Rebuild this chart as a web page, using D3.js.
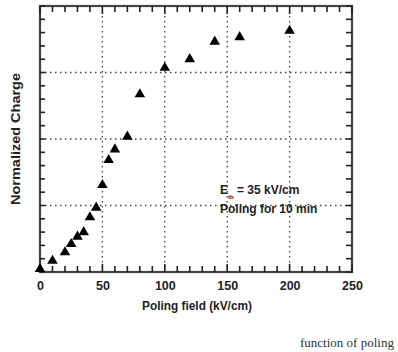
<!DOCTYPE html>
<html>
<head>
<meta charset="utf-8">
<script src="https://cdn.jsdelivr.net/npm/d3@7"></script>
<style>
  body { margin: 0; background: #fff; }
  text { font-family: "Liberation Sans", Arial, sans-serif; }
</style>
</head>
<body>
<div id="chart"></div>
<script>
// poling field (kV/cm) and normalized charge
const field = [0, 10, 20, 25, 30, 35, 40, 45, 50, 55, 60, 70, 80, 100, 120, 140, 160, 200];
const charge = [0.011, 0.042, 0.074, 0.105, 0.133, 0.150, 0.206, 0.242, 0.327, 0.421,
                0.461, 0.509, 0.668, 0.768, 0.800, 0.866, 0.883, 0.907];
const xTicks = [0, 50, 100, 150, 200, 250];
const yGrid = [0.25, 0.5, 0.75];

const width = 398;
const height = 352;
const plotLeft = 40, plotRight = 352, plotTop = 6, plotBottom = 272;

const svg = d3.select('#chart')
    .append('svg')
    .attr('width', width)
    .attr('height', height);

const xScale = d3.scaleLinear().domain([0, 250]).range([plotLeft, plotRight]);
const yScale = d3.scaleLinear().domain([0, 1]).range([plotBottom, plotTop]);

//grid lines
svg.selectAll('line.vgrid')
    .data([50, 100, 150, 200])
    .enter()
    .append('line')
    .attr('class', 'vgrid')
    .attr('x1', d => xScale(d)).attr('x2', d => xScale(d))
    .attr('y1', plotTop).attr('y2', plotBottom)
    .attr('stroke', '#444').attr('stroke-width', 1.3)
    .attr('stroke-dasharray', '1.5,3.5');

svg.selectAll('line.hgrid')
    .data(yGrid)
    .enter()
    .append('line')
    .attr('class', 'hgrid')
    .attr('x1', plotLeft).attr('x2', plotRight)
    .attr('y1', d => yScale(d)).attr('y2', d => yScale(d))
    .attr('stroke', '#444').attr('stroke-width', 1.3)
    .attr('stroke-dasharray', '1.5,3.5');

//frame
svg.append('rect')
    .attr('x', plotLeft).attr('y', plotTop)
    .attr('width', plotRight - plotLeft).attr('height', plotBottom - plotTop)
    .attr('fill', 'none')
    .attr('stroke', '#444')
    .attr('stroke-width', 2.2);

//inward ticks, drawn by hand from the scales
const minorX = d3.range(0, 251, 10);
const minorY = d3.range(0, 1.001, 0.05);
const ticks = svg.append('g').attr('stroke', '#222').attr('stroke-width', 1.6);

ticks.selectAll('line.xb')
    .data(minorX).enter().append('line').attr('class', 'xb')
    .attr('x1', d => xScale(d)).attr('x2', d => xScale(d))
    .attr('y1', plotBottom).attr('y2', d => plotBottom - (d % 50 === 0 ? 8 : 6));

ticks.selectAll('line.xt')
    .data(minorX).enter().append('line').attr('class', 'xt')
    .attr('x1', d => xScale(d)).attr('x2', d => xScale(d))
    .attr('y1', plotTop).attr('y2', d => plotTop + (d % 50 === 0 ? 8 : 6));

ticks.selectAll('line.yl')
    .data(minorY).enter().append('line').attr('class', 'yl')
    .attr('x1', plotLeft).attr('x2', plotLeft + 5)
    .attr('y1', d => yScale(d)).attr('y2', d => yScale(d));

ticks.selectAll('line.yr')
    .data(minorY).enter().append('line').attr('class', 'yr')
    .attr('x1', plotRight).attr('x2', plotRight - 6)
    .attr('y1', d => yScale(d)).attr('y2', d => yScale(d));

//x tick labels
const xAxis = d3.axisBottom(xScale).tickValues(xTicks).tickSize(0).tickFormat(d3.format('d')).tickPadding(9);
svg.append('g').attr('transform', 'translate(0,' + plotBottom + ')').call(xAxis)
    .call(g => g.select('.domain').remove())
    .call(g => g.selectAll('text').attr('font-size', 12.5).attr('font-weight', 'bold').attr('fill', '#222'));

//points
svg.selectAll('path.pt')
    .data(field)
    .enter()
    .append('path')
    .attr('class', 'pt')
    .attr('d', d3.symbol().type(d3.symbolTriangle).size(48))
    .attr('transform', (d, i) => 'translate(' + xScale(d) + ',' + yScale(charge[i]) + ')')
    .attr('fill', '#000');

//labels
svg.append('text')
    .attr('x', 197)
    .attr('y', 310)
    .attr('text-anchor', 'middle')
    .attr('font-size', 12.5)
    .attr('font-weight', 'bold')
    .attr('fill', '#222')
    .attr('textLength', 110)
    .attr('lengthAdjust', 'spacingAndGlyphs')
    .text('Poling field (kV/cm)');

svg.append('text')
    .attr('transform', 'translate(20,139) rotate(-90)')
    .attr('text-anchor', 'middle')
    .attr('font-size', 13.5)
    .attr('font-weight', 'bold')
    .attr('fill', '#222')
    .attr('textLength', 132)
    .attr('lengthAdjust', 'spacingAndGlyphs')
    .text('Normalized Charge');

const ann = svg.append('text')
    .attr('x', 220)
    .attr('y', 194)
    .attr('font-size', 12)
    .attr('font-weight', 'bold')
    .attr('fill', '#222');
ann.append('tspan').text('E');
ann.append('tspan').attr('font-size', 6).attr('dy', 5).text('th');
ann.append('tspan').attr('dy', -5).text(' = 35 kV/cm');

svg.append('text')
    .attr('x', 220)
    .attr('y', 213)
    .attr('font-size', 12)
    .attr('font-weight', 'bold')
    .attr('fill', '#222')
    .text('Poling for 10 min');

svg.append('text')
    .attr('x', 300)
    .attr('y', 347)
    .attr('font-size', 13)
    .attr('fill', '#333')
    .style('font-family', '"Liberation Serif", serif')
    .text('function of poling');
</script>
</body>
</html>
